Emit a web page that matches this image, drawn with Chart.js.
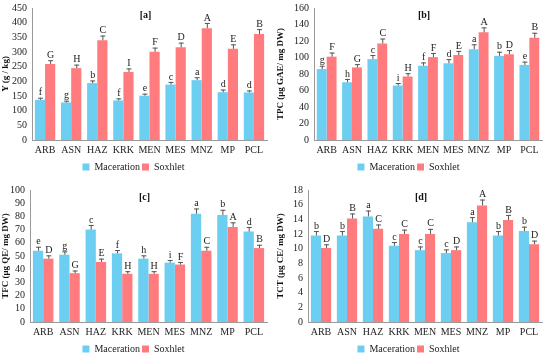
<!DOCTYPE html>
<html lang="en">
<head>
  <meta charset="UTF-8">
  <title>Extraction yield and phenolic contents</title>
  <script src="https://cdn.jsdelivr.net/npm/chart.js"></script>
  <style>
    body { margin: 0; background: #fff; }
    .panel { position: absolute; width: 275px; height: 182px; }
  </style>
</head>
<body>
  <div class="panel" style="left:0;top:0"><canvas id="chartA" width="275" height="182"></canvas></div>
  <div class="panel" style="left:275px;top:0"><canvas id="chartB" width="275" height="182"></canvas></div>
  <div class="panel" style="left:0;top:182px"><canvas id="chartC" width="275" height="182"></canvas></div>
  <div class="panel" style="left:275px;top:182px"><canvas id="chartD" width="275" height="182"></canvas></div>

  <script>
    // categories (plant samples)
    const samples = ['ARB', 'ASN', 'HAZ', 'KRK', 'MEN', 'MES', 'MNZ', 'MP', 'PCL'];

    // [a] yield
    const yieldMac = [137, 128, 194, 135, 151, 189, 204, 163, 162];
    const yieldSox = [259, 245, 340, 232, 301, 316, 381, 311, 361];
    const yieldMacErr = [7, 6, 9, 7, 7, 9, 10, 9, 7];
    const yieldSoxErr = [13, 12, 16, 12, 14, 16, 18, 15, 17];
    const yieldMacLetters = ['f', 'g', 'b', 'f', 'e', 'c', 'a', 'd', 'd'];
    const yieldSoxLetters = ['G', 'H', 'C', 'I', 'F', 'D', 'A', 'E', 'B'];

    // [b] TPC
    const tpcMac = [86, 70, 98, 66, 90, 93, 110, 102, 91];
    const tpcSox = [101, 88, 117, 77, 100.5, 103, 130.5, 104, 124];
    const tpcMacErr = [4, 4, 5, 3, 4, 5, 6, 5, 4];
    const tpcSoxErr = [5, 4, 6, 4, 5, 5, 6, 5, 6];
    const tpcMacLetters = ['g', 'h', 'c', 'i', 'f', 'd', 'a', 'b', 'e'];
    const tpcSoxLetters = ['F', 'G', 'C', 'H', 'F', 'E', 'A', 'D', 'B'];

    // [c] TFC
    const tfcMac = [54, 51, 70, 52, 48, 45, 82, 81, 68.5];
    const tfcSox = [48, 37, 45.5, 36.5, 36.5, 43.5, 54, 72, 56];
    const tfcMacErr = [3, 2.5, 3.5, 2.5, 2.5, 2, 4, 4, 3.5];
    const tfcSoxErr = [2.5, 2, 2.5, 2, 2, 2, 3, 3.5, 2.5];
    const tfcMacLetters = ['e', 'g', 'c', 'f', 'h', 'i', 'a', 'b', 'd'];
    const tfcSoxLetters = ['D', 'G', 'E', 'H', 'H', 'F', 'C', 'A', 'B'];

    // [d] TCT
    const tctMac = [11.8, 11.8, 14.4, 10.4, 9.8, 9.4, 13.6, 11.8, 12.4];
    const tctSox = [10.1, 14.1, 12.7, 12.0, 12.0, 9.8, 15.9, 13.9, 10.6];
    const tctMacErr = [0.6, 0.6, 0.8, 0.5, 0.5, 0.5, 0.7, 0.6, 0.6];
    const tctSoxErr = [0.5, 0.7, 0.6, 0.6, 0.7, 0.5, 0.8, 0.7, 0.5];
    const tctMacLetters = ['b', 'b', 'a', 'c', 'c', 'c', 'a', 'b', 'b'];
    const tctSoxLetters = ['D', 'B', 'C', 'C', 'C', 'D', 'A', 'B', 'D'];

    const MAC_COLOR = '#6ccff2';
    const SOX_COLOR = '#ff7b7e';
    const SERIF = "'Liberation Serif', serif";

    Chart.defaults.font.family = SERIF;
    Chart.defaults.color = '#222';

    // draws the error bars, significance letters and the panel tag
    const extrasPlugin = {
      id: 'extras',
      afterDatasetsDraw(chart, args, opts) {
        const ctx = chart.ctx;
        const yScale = chart.scales.y;
        ctx.save();
        chart.data.datasets.forEach((ds, i) => {
          const meta = chart.getDatasetMeta(i);
          meta.data.forEach((bar, j) => {
            const top = yScale.getPixelForValue(ds.data[j] + ds.errors[j]);
            const x = bar.x;
            ctx.strokeStyle = '#555';
            ctx.lineWidth = 1;
            ctx.beginPath();
            ctx.moveTo(x + 0.5, bar.y);
            ctx.lineTo(x + 0.5, top);
            ctx.moveTo(x - 2, top + 0.5);
            ctx.lineTo(x + 3, top + 0.5);
            ctx.stroke();
            ctx.fillStyle = '#222';
            ctx.font = '10px ' + SERIF;
            ctx.textAlign = 'center';
            ctx.textBaseline = 'bottom';
            ctx.fillText(ds.letters[j], x + 0.5, top);
          });
        });
        const area = chart.chartArea;
        ctx.fillStyle = '#111';
        ctx.font = 'bold 10px ' + SERIF;
        ctx.textAlign = 'center';
        ctx.textBaseline = 'top';
        ctx.fillText(opts.tag, (area.left + area.right) / 2 - 4, area.top + 2);
        ctx.restore();
      }
    };

    function makeChart(id, tag, mac, sox, macErr, soxErr, macLet, soxLet, yMax, yStep, yTitle, axisWidth) {
      const ctx = document.getElementById(id).getContext('2d');
      new Chart(ctx, {
        type: 'bar',
        data: {
          labels: samples,
          datasets: [
            { label: 'Maceration', data: mac, errors: macErr, letters: macLet, backgroundColor: MAC_COLOR },
            { label: 'Soxhlet', data: sox, errors: soxErr, letters: soxLet, backgroundColor: SOX_COLOR }
          ]
        },
        options: {
          responsive: false,
          animation: false,
          layout: { padding: { top: 2, right: 8, bottom: 0 } },
          datasets: { bar: { categoryPercentage: 0.78, barPercentage: 1.0 } },
          plugins: {
            extras: { tag: tag },
            tooltip: { enabled: false },
            legend: {
              position: 'bottom',
              labels: {
                boxWidth: 7, boxHeight: 7, padding: 2,
                color: '#222',
                font: { family: SERIF, size: 10 }
              }
            }
          },
          scales: {
            x: {
              grid: { display: false, drawTicks: false },
              border: { color: '#999' },
              ticks: { color: '#222', padding: 4, maxRotation: 0, autoSkip: false, font: { family: SERIF, size: 10 } }
            },
            y: {
              min: 0, max: yMax,
              afterFit(scale) { scale.width = axisWidth; },
              grid: { display: false, drawTicks: true, tickLength: 3, tickColor: '#999' },
              border: { color: '#999' },
              ticks: { stepSize: yStep, autoSkip: false, color: '#222', padding: 2, font: { family: SERIF, size: 10 } },
              title: { display: true, text: yTitle, color: '#111', padding: 0, font: { family: SERIF, size: 9, weight: 'bold' } }
            }
          }
        },
        plugins: [extrasPlugin]
      });
    }

    makeChart('chartA', '[a]', yieldMac, yieldSox, yieldMacErr, yieldSoxErr, yieldMacLetters, yieldSoxLetters, 450, 50, 'Y (g / kg)', 32);
    makeChart('chartB', '[b]', tpcMac, tpcSox, tpcMacErr, tpcSoxErr, tpcMacLetters, tpcSoxLetters, 160, 20, 'TPC (µg GAE/ mg DW)', 39);
    makeChart('chartC', '[c]', tfcMac, tfcSox, tfcMacErr, tfcSoxErr, tfcMacLetters, tfcSoxLetters, 100, 10, 'TFC (µg QE/ mg DW)', 30);
    makeChart('chartD', '[d]', tctMac, tctSox, tctMacErr, tctSoxErr, tctMacLetters, tctSoxLetters, 18, 2, 'TCT (µg CE/ mg DW)', 33);
  </script>
</body>
</html>
